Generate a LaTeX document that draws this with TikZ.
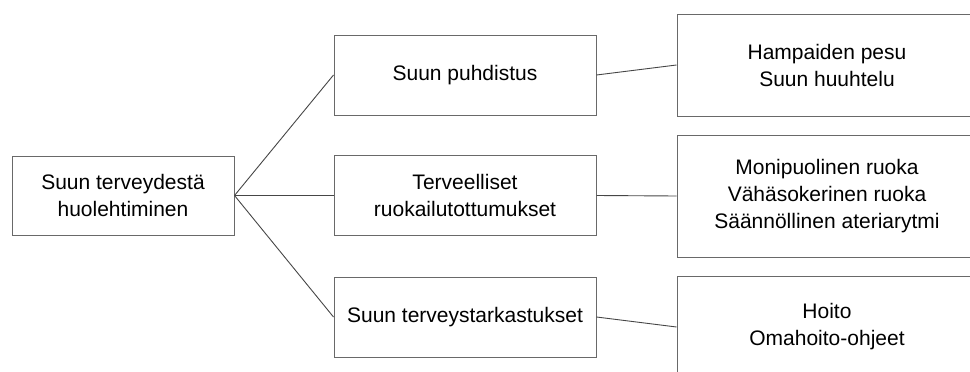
\documentclass[tikz,border=0pt]{standalone}
\usepackage{fontspec}
\setmainfont{Liberation Sans}
\definecolor{boxgray}{RGB}{105,105,105}
\definecolor{linegray}{RGB}{70,70,70}
\begin{document}
\begin{tikzpicture}[x=1pt,y=-1pt,
  box/.style={draw=boxgray, line width=1pt, rectangle, inner sep=0pt, align=center,
    font=\fontsize{21}{27}\selectfont, text=black},
  midbox/.style={box, minimum width=262pt, minimum height=80pt},
  rbox/.style={box, minimum width=300pt},
  conn/.style={draw=linegray, line width=0.9pt}]
\useasboundingbox (0,0) rectangle (970,372);
\clip (0,0) rectangle (970,372);
\node[box, minimum width=222pt, minimum height=79pt] (root) at (123,195.5) {Suun terveydestä\\huolehtiminen};
\node[midbox] (m1) at (465,75) {Suun puhdistus};
\node[midbox] (m2) at (465,195.5) {Terveelliset\\ruokailutottumukset};
\node[midbox] (m3) at (465,317) {Suun terveystarkastukset};
\node[rbox, minimum height=102pt] (r1) at (827,65) {Hampaiden pesu\\Suun huuhtelu};
\node[rbox, minimum height=122pt] (r2) at (827,196) {Monipuolinen ruoka\\Vähäsokerinen ruoka\\Säännöllinen ateriarytmi};
\node[rbox, minimum height=102pt] (r3) at (827,327) {Hoito\\Omahoito-ohjeet};
\draw[conn] (root.east) -- (m1.west);
\draw[conn] (root.east) -- (m2.west);
\draw[conn] (root.east) -- (m3.west);
\draw[conn] (m1.east) -- (r1.west);
\draw[conn] (m2.east) -- (r2.west);
\draw[conn] (m3.east) -- (r3.west);
\end{tikzpicture}
\end{document}
